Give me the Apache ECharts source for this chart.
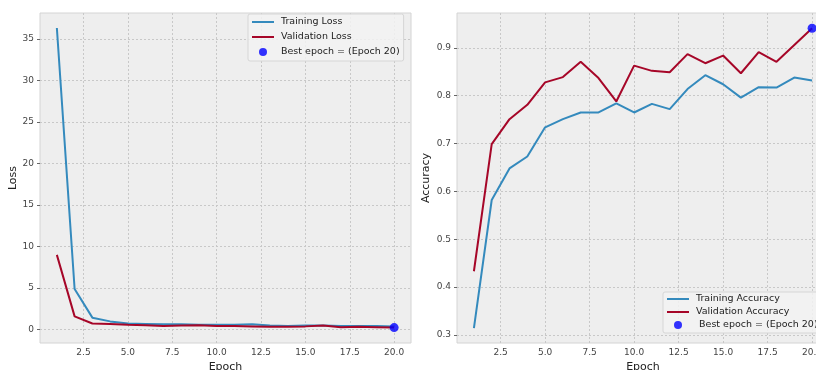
<!DOCTYPE html>
<html><head><meta charset="utf-8">
<script src="https://cdn.jsdelivr.net/npm/echarts@6/dist/echarts.min.js"></script>
<style>html,body{margin:0;padding:0;background:#fff}#c{width:816px;height:370px}</style>
</head><body><div id="c"></div>
<script>
const epochs = [1,2,3,4,5,6,7,8,9,10,11,12,13,14,15,16,17,18,19,20];
const trainLoss = [36.3, 4.9, 1.45, 1.0, 0.75, 0.7, 0.65, 0.65, 0.6, 0.6, 0.6, 0.65, 0.5, 0.45, 0.5, 0.5, 0.45, 0.45, 0.45, 0.4];
const valLoss = [9.0, 1.6, 0.75, 0.7, 0.6, 0.55, 0.45, 0.5, 0.55, 0.45, 0.45, 0.4, 0.35, 0.35, 0.4, 0.5, 0.3, 0.35, 0.3, 0.25];
const trainAcc = [0.314, 0.582, 0.648, 0.673, 0.734, 0.751, 0.765, 0.765, 0.784, 0.765, 0.783, 0.772, 0.814, 0.843, 0.824, 0.796, 0.818, 0.817, 0.838, 0.832];
const valAcc = [0.433, 0.699, 0.751, 0.781, 0.828, 0.839, 0.871, 0.837, 0.788, 0.863, 0.852, 0.849, 0.887, 0.868, 0.884, 0.847, 0.891, 0.871, 0.906, 0.941];
const bestEpoch = 20;
const xTicks = [2.5, 5, 7.5, 10, 12.5, 15, 17.5, 20];
const lossTicks = [0, 5, 10, 15, 20, 25, 30, 35];
const accTicks = [0.3, 0.4, 0.5, 0.6, 0.7, 0.8, 0.9];
const names = {
  trainLoss: 'Training Loss', valLoss: 'Validation Loss', bestLoss: 'Best epoch = (Epoch 20)',
  trainAcc: 'Training Accuracy', valAcc: 'Validation Accuracy', bestAcc: ' Best epoch = (Epoch 20)',
  xName: 'Epoch', lossName: 'Loss', accName: 'Accuracy'
};

const pairs = (ys) => epochs.map((e, i) => [e, ys[i]]);
const FONT = 'DejaVu Sans';
const BLUE = '#348ABD', RED = '#A60628';
const LINE_ICON = 'path://M0,0 L22,0 L22,2 L0,2 Z';

function xAxis(gridIndex) {
  return {
    type: 'value', gridIndex, min: 0.05, max: 20.95,
    name: names.xName, nameLocation: 'middle', nameGap: 17,
    nameTextStyle: { fontFamily: FONT, fontSize: 11, color: '#222' },
    axisLine: { show: false },
    axisTick: { show: false, customValues: xTicks },
    axisLabel: { customValues: xTicks, fontFamily: FONT, fontSize: 9, color: '#444', margin: 5,
      formatter: v => v.toFixed(1) },
    splitLine: { show: true, customValues: xTicks, lineStyle: { color: '#c8c8c8', type: [2, 2], width: 1 } }
  };
}
function yAxis(gridIndex, min, max, ticks, name, gap, fmt) {
  return {
    type: 'value', gridIndex, min, max,
    name, nameLocation: 'middle', nameGap: gap,
    nameTextStyle: { fontFamily: FONT, fontSize: 11, color: '#222' },
    axisLine: { show: false },
    axisTick: { show: true, inside: false, length: 3, customValues: ticks, lineStyle: { color: '#666' } },
    axisLabel: { customValues: ticks, fontFamily: FONT, fontSize: 9, color: '#444', margin: 6, formatter: fmt },
    splitLine: { show: true, customValues: ticks, lineStyle: { color: '#c8c8c8', type: [2, 2], width: 1 } }
  };
}
function legend(data, left, top, gap, pad) {
  return {
    data: [
      { name: data[0], icon: LINE_ICON },
      { name: data[1], icon: LINE_ICON },
      { name: data[2], icon: 'circle' }
    ],
    left, top, orient: 'vertical', itemWidth: 22, itemHeight: 8, itemGap: gap, symbolKeepAspect: true,
    padding: pad, backgroundColor: 'rgba(242,242,242,0.85)', borderColor: '#d6d6d6', borderWidth: 1,
    borderRadius: 2, selectedMode: false,
    textStyle: { fontFamily: FONT, fontSize: 9.5, color: '#222', padding: [0, 0, 0, 2] }
  };
}
function line(name, data, color, xi, yi) {
  return { type: 'line', name, data, xAxisIndex: xi, yAxisIndex: yi, symbol: 'none',
    lineStyle: { color, width: 2 }, itemStyle: { color }, animation: false };
}
function best(name, x, y, xi, yi) {
  return { type: 'scatter', name, data: [[x, y]], xAxisIndex: xi, yAxisIndex: yi, symbolSize: 9,
    itemStyle: { color: '#0000ff' }, z: 5, animation: false };
}

const chart = echarts.init(document.getElementById('c'), null, { renderer: 'canvas' });
chart.setOption({
  backgroundColor: '#ffffff',
  animation: false,
  grid: [
    { left: 40, top: 13, width: 371, height: 330, outerBoundsMode: 'none', containLabel: false,
      show: true, backgroundColor: '#eeeeee', borderColor: '#d4d4d4', borderWidth: 1 },
    { left: 457, top: 13, width: 372, height: 330, outerBoundsMode: 'none', containLabel: false,
      show: true, backgroundColor: '#eeeeee', borderColor: '#d4d4d4', borderWidth: 1 }
  ],
  xAxis: [xAxis(0), xAxis(1)],
  yAxis: [
    yAxis(0, -1.6, 38.1, lossTicks, names.lossName, 20, v => String(v)),
    yAxis(1, 0.283, 0.973, accTicks, names.accName, 25, v => v.toFixed(1))
  ],
  legend: [
    legend([names.trainLoss, names.valLoss, names.bestLoss], 248, 14, 5, [3, 4, 4, 4]),
    legend([names.trainAcc, names.valAcc, names.bestAcc], 663, 292, 3, [2, 4, 3, 4])
  ],
  series: [
    line(names.trainLoss, pairs(trainLoss), BLUE, 0, 0),
    line(names.valLoss, pairs(valLoss), RED, 0, 0),
    best(names.bestLoss, bestEpoch, valLoss[bestEpoch - 1], 0, 0),
    line(names.trainAcc, pairs(trainAcc), BLUE, 1, 1),
    line(names.valAcc, pairs(valAcc), RED, 1, 1),
    best(names.bestAcc, bestEpoch, valAcc[bestEpoch - 1], 1, 1)
  ]
});
</script></body></html>
